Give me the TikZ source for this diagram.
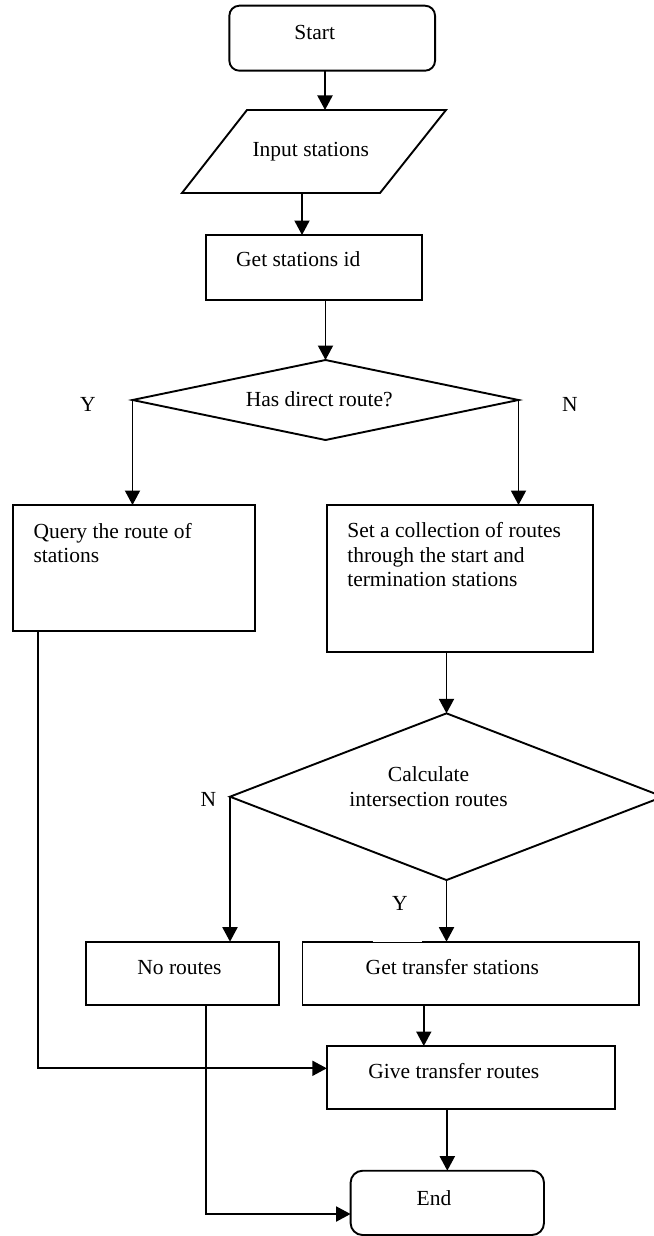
\documentclass[tikz,border=0pt]{standalone}
\usepackage{fontspec}
\setmainfont{Liberation Serif}
\usetikzlibrary{arrows.meta,shapes.geometric}
\begin{document}
\begin{tikzpicture}[x=1pt,y=-1pt,
  every node/.style={font=\fontsize{21.5}{24.4}\selectfont},
  ln/.style={line width=1.9pt},
  arr/.style={ln,-{Triangle[length=14.5pt,width=15pt]}},
  box/.style={draw,ln,rectangle,inner sep=0pt,outer sep=0pt},
  term/.style={box,rounded corners=10pt},
  dia/.style={draw,ln,diamond,inner sep=0pt,outer sep=0pt},
  txt/.style={inner sep=0pt,outer sep=0pt},
]
\useasboundingbox (0,0) rectangle (653,1236);

% shapes
\node[term, minimum width=205.7pt, minimum height=65pt] (start) at (332.2,38.2) {};
\coordinate (inTL) at (247,110);
\coordinate (inTR) at (446,110);
\coordinate (inBR) at (380,193);
\coordinate (inBL) at (182,193);
\draw[ln] (inTL) -- (inTR) -- (inBR) -- (inBL) -- cycle;
\coordinate (inT) at (325,110);
\coordinate (inB) at (302,193);
\node[box, minimum width=216pt, minimum height=65pt] (getid) at (314,267.5) {};
\node[dia, minimum width=386pt, minimum height=80pt] (d1) at (325.5,400) {};
\node[box, minimum width=241.4pt, minimum height=125.7pt] (query) at (134.1,567.85) {};
\node[box, minimum width=266.1pt, minimum height=146.7pt] (setc) at (459.85,578.35) {};
\node[dia, minimum width=433pt, minimum height=166.7pt] (d2) at (446.5,796.7) {};
\node[box, minimum width=193.2pt, minimum height=63.6pt] (nor) at (182.4,973.5) {};
\node[box, minimum width=336.8pt, minimum height=63.6pt] (gett) at (470.9,973.5) {};
\node[box, minimum width=288.2pt, minimum height=63.3pt] (give) at (470.9,1077.65) {};
\node[term, rounded corners=12pt, minimum width=193.4pt, minimum height=64.3pt] (stop) at (447.3,1202.85) {};
% thin stretch in the top edge of "Get transfer stations"
\coordinate (gapL) at (372.7,0);
\coordinate (gapR) at (422.3,0);
\draw[white, line width=1.1pt] ([yshift=0.5pt]gett.north -| gapL) -- ([yshift=0.5pt]gett.north -| gapR);

% texts
\node[txt, anchor=base] (tstart) at (314.7,39.3) {Start};
\node[txt, anchor=base] (tin) at (310.8,156.7) {Input stations};
\node[txt, anchor=base] (tgetid) at (298.3,266.7) {Get stations id};
\node[txt, anchor=base] (td1) at (319.2,406.7) {Has direct route?};
\node[txt, anchor=base] (ly1) at (87.9,411.5) {Y};
\node[txt, anchor=base] (ln1) at (569.9,411.5) {N};
\node[txt, anchor=north west, align=left] (tquery) at (33.5,523) {Query the route of\\stations};
\node[txt, anchor=north west, align=left] (tset) at (347.3,522.6) {Set a collection of routes\\through the start and\\termination stations};
\node[txt, anchor=north, align=center] (td2) at (428.5,767) {Calculate\\intersection routes};
\node[txt, anchor=base] (ln2) at (208.3,806) {N};
\node[txt, anchor=base] (ly2) at (400,910) {Y};
\node[txt, anchor=base] (tnor) at (179.5,974) {No routes};
\node[txt, anchor=base] (tgett) at (452.3,974) {Get transfer stations};
\node[txt, anchor=base] (tgive) at (453.8,1078.3) {Give transfer routes};
\node[txt, anchor=base] (tstop) at (434,1205) {End};

% connectors
\coordinate (c4) at (423.8,0);
\coordinate (c5) at (38,0);
\coordinate (c7) at (206.3,0);
\draw[arr] (start.south -| inT) -- (inT);
\draw[arr] (inB) -- (inB |- getid.north);
\draw[arr] (getid.south -| d1.north) -- (d1.north);
\draw[arr] (d1.west) -- (d1.west |- query.north);
\draw[arr] (d1.east) -- (d1.east |- setc.north);
\draw[arr] (setc.south -| d2.north) -- (d2.north);
\draw[arr] (d2.west) -- (d2.west |- nor.north);
\draw[arr] (d2.south) -- (gett.north -| d2.south);
\draw[arr] (gett.south -| c4) -- (give.north -| c4);
\draw[arr] (query.south -| c5) |- ([yshift=9.35pt]give.west);
\draw[arr] (nor.south -| c7) |- ([yshift=-11.15pt]stop.west);
\draw[arr] (give.south -| stop.north) -- (stop.north);
\end{tikzpicture}
\end{document}
